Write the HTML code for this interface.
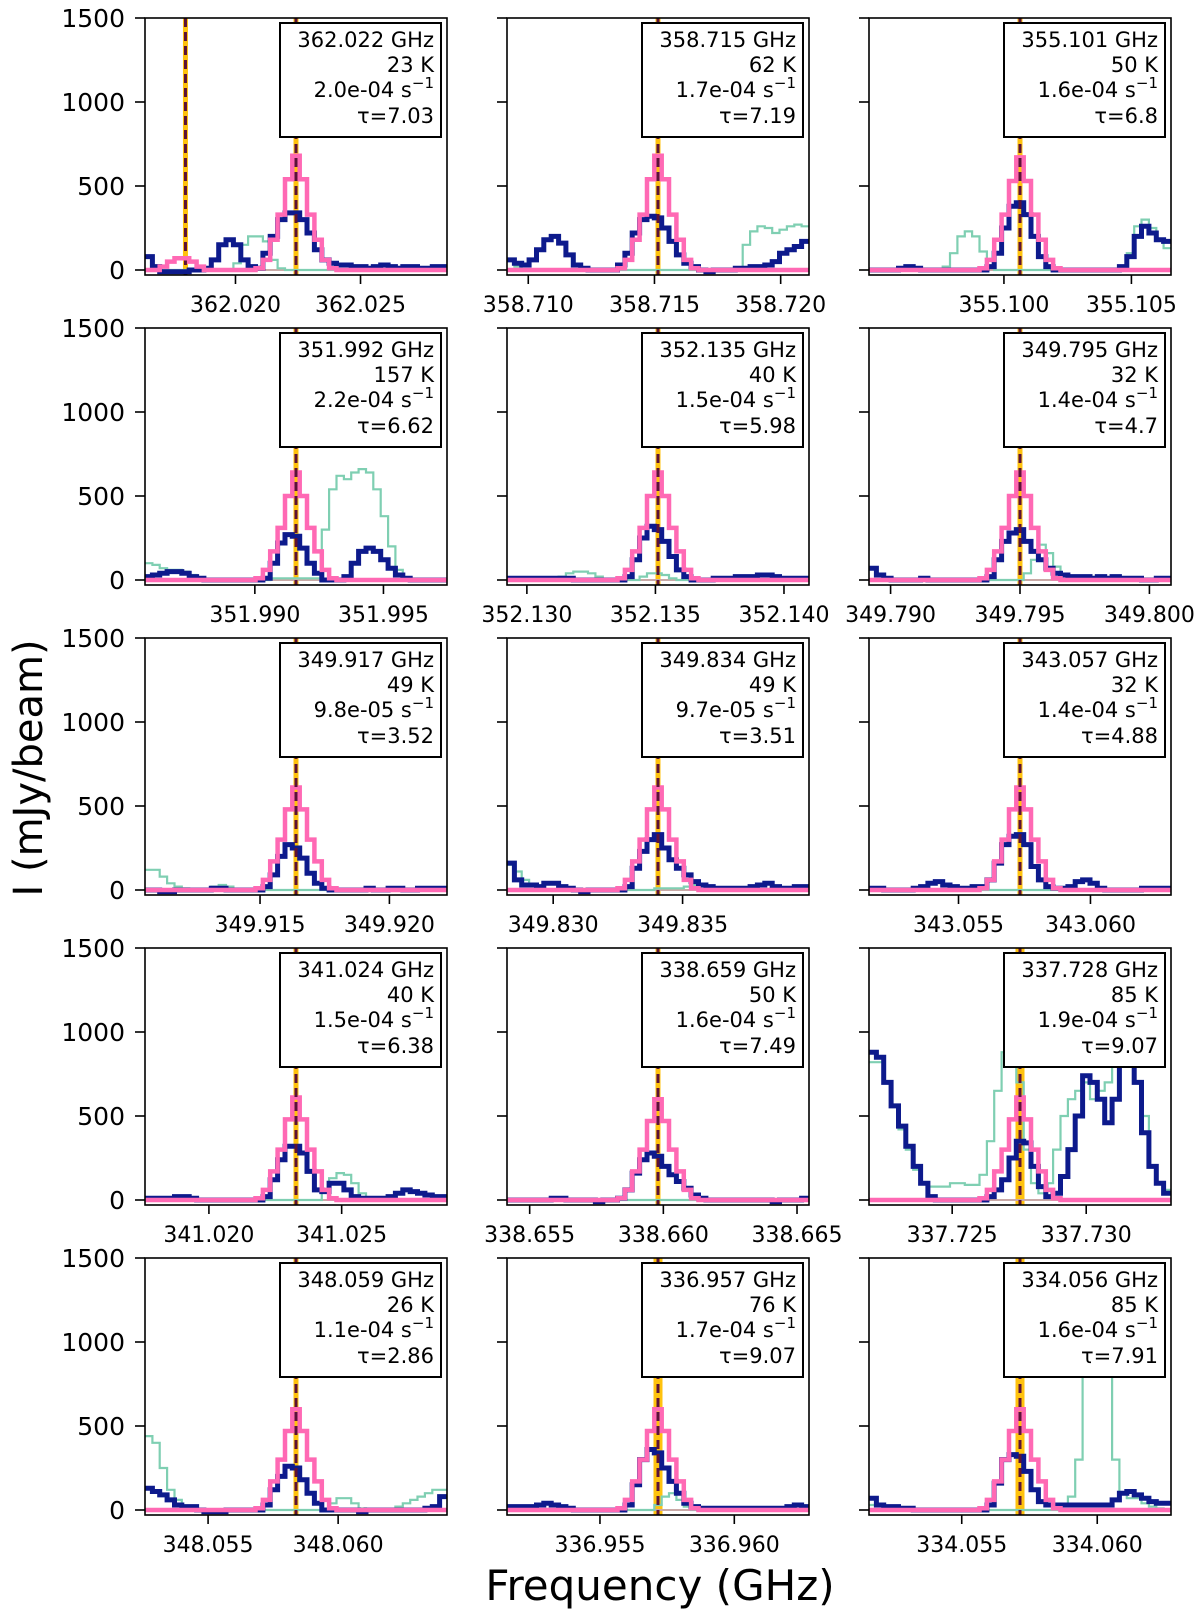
<!DOCTYPE html>
<html><head><meta charset="utf-8"><style>
body{margin:0;background:#fff}
svg text{font-family:"DejaVu Sans","Liberation Sans",sans-serif}
</style></head><body>
<svg id="fig" xmlns="http://www.w3.org/2000/svg" width="1200" height="1613" viewBox="0 0 1200 1613">
<text x="0" y="0" transform="translate(42,768) rotate(-90)" font-size="40" text-anchor="middle">I (mJy/beam)</text>
<text x="660" y="1600" font-size="42" text-anchor="middle">Frequency (GHz)</text>
</svg>
<script>
const labels=["362.022 GHz","358.715 GHz","355.101 GHz","351.992 GHz","352.135 GHz","349.795 GHz","349.917 GHz","349.834 GHz","343.057 GHz","341.024 GHz","338.659 GHz","337.728 GHz","348.059 GHz","336.957 GHz","334.056 GHz"];
const temps=["23 K","62 K","50 K","157 K","40 K","32 K","49 K","49 K","32 K","40 K","50 K","85 K","26 K","76 K","85 K"];
const rates=["2.0e-04","1.7e-04","1.6e-04","2.2e-04","1.5e-04","1.4e-04","9.8e-05","9.7e-05","1.4e-04","1.5e-04","1.6e-04","1.9e-04","1.1e-04","1.7e-04","1.6e-04"];
const taus=["7.03","7.19","6.8","6.62","5.98","4.7","3.52","3.51","4.88","6.38","7.49","9.07","2.86","9.07","7.91"];
const centers=[362.02242,358.71514,355.10063,351.9916,352.1351,349.7950,349.91639,349.83405,343.05733,341.02328,338.6598,337.72753,348.05838,336.95716,334.05715];
const tickVals=[[362.020,362.025],[358.710,358.715,358.720],[355.100,355.105],[351.990,351.995],[352.130,352.135,352.140],[349.790,349.795,349.800],[349.915,349.920],[349.830,349.835],[343.055,343.060],[341.020,341.025],[338.655,338.660,338.665],[337.725,337.730],[348.055,348.060],[336.955,336.960],[334.055,334.060]];
const extraLines=[[362.0180],[],[],[],[],[],[],[],[],[],[],[],[],[],[]];
const yTicks=[0,500,1000,1500];
const navy=[
[80,20,-10,-10,-10,-10,0,0,10,60,150,180,150,60,20,10,100,200,300,340,340,300,220,120,60,40,30,30,20,20,10,20,30,20,10,20,20,10,10,20,20],
[60,40,30,60,120,180,200,160,90,30,10,0,0,0,0,30,100,220,300,320,310,250,170,90,40,20,0,-10,0,0,0,10,10,20,20,30,50,100,120,140,170],
[0,0,0,0,10,20,10,0,0,0,0,0,0,0,0,0,20,100,250,380,400,330,200,80,20,0,0,0,0,0,0,0,0,0,20,80,200,260,220,180,170],
[20,30,40,50,50,40,20,10,0,0,0,0,0,0,0,0,10,100,220,270,260,190,100,40,0,0,0,20,100,170,190,170,120,70,30,10,0,0,0,0,0],
[10,10,10,10,10,10,10,10,10,0,0,0,0,0,0,0,20,120,250,320,300,230,140,60,20,0,0,0,10,10,10,20,20,20,30,30,20,10,10,10,10],
[70,30,10,0,0,0,0,10,0,0,0,0,0,0,0,0,20,120,230,280,300,230,170,120,70,40,30,20,20,20,10,20,10,20,10,10,10,0,0,10,10],
[0,0,-10,-10,0,0,0,0,0,10,10,0,0,0,0,0,20,90,200,270,250,190,100,40,10,0,0,0,0,0,10,0,0,10,10,0,0,10,10,10,10],
[160,60,30,30,20,40,40,20,10,0,-10,0,0,0,0,0,20,130,230,300,330,250,180,130,90,50,30,20,10,10,10,10,10,20,30,40,20,10,10,20,20],
[10,10,0,0,0,0,10,20,40,50,30,20,10,10,20,20,60,160,270,320,330,270,140,60,20,10,10,20,50,60,40,10,0,0,0,0,0,10,10,10,10],
[10,10,10,10,20,20,10,0,0,0,0,0,0,0,0,0,20,120,240,320,320,280,170,60,50,100,100,60,20,10,10,10,10,20,40,60,50,40,30,20,20],
[0,0,0,0,0,0,10,10,0,0,0,0,-10,0,0,10,60,160,240,280,260,200,150,110,70,30,10,0,0,0,0,0,0,0,0,0,-10,0,0,0,10],
[880,850,700,560,440,320,200,100,20,0,0,0,0,0,0,0,20,60,120,250,350,340,200,80,20,40,140,300,500,740,700,600,460,600,900,900,700,400,200,100,40],
[130,110,90,60,30,20,20,0,-10,-10,-10,0,0,0,0,0,30,120,200,260,250,180,100,40,0,0,0,0,0,-10,0,0,0,0,0,0,0,0,10,20,80],
[20,20,20,20,30,40,30,20,10,0,0,0,0,0,0,0,30,150,300,360,340,250,170,100,40,20,10,10,10,10,10,10,10,10,10,10,10,10,20,30,20],
[70,30,20,20,10,10,0,0,0,0,0,0,0,0,0,0,30,160,300,330,320,230,120,50,30,30,30,30,30,30,30,30,30,60,100,110,90,70,50,40,40]];
const pink=[
[0,0,20,50,70,70,50,20,0,0,0,0,0,0,0,10,60,180,330,540,680,540,330,180,60,10,0,0,0,0,0,0,0,0,0,0,0,0,0,0,0],
[0,0,0,0,0,0,0,0,0,0,0,0,0,0,0,10,60,180,330,540,680,540,330,180,60,10,0,0,0,0,0,0,0,0,0,0,0,0,0,0,0],
[0,0,0,0,0,0,0,0,0,0,0,0,0,0,0,10,60,180,330,530,670,530,330,180,60,10,0,0,0,0,0,0,0,0,0,0,0,0,0,0,0],
[0,0,0,0,0,0,0,0,0,0,0,0,0,0,0,10,60,170,310,500,640,500,310,170,60,10,0,0,0,0,0,0,0,0,0,0,0,0,0,0,0],
[0,0,0,0,0,0,0,0,0,0,0,0,0,0,0,10,60,170,310,500,640,500,310,170,60,10,0,0,0,0,0,0,0,0,0,0,0,0,0,0,0],
[0,0,0,0,0,0,0,0,0,0,0,0,0,0,0,10,60,170,310,500,640,500,310,170,60,10,0,0,0,0,0,0,0,0,0,0,0,0,0,0,0],
[0,0,0,0,0,0,0,0,0,0,0,0,0,0,0,10,60,170,300,480,610,480,300,170,60,10,0,0,0,0,0,0,0,0,0,0,0,0,0,0,0],
[0,0,0,0,0,0,0,0,0,0,0,0,0,0,0,10,60,170,300,480,610,480,300,170,60,10,0,0,0,0,0,0,0,0,0,0,0,0,0,0,0],
[0,0,0,0,0,0,0,0,0,0,0,0,0,0,0,10,60,170,300,480,610,480,300,170,60,10,0,0,0,0,0,0,0,0,0,0,0,0,0,0,0],
[0,0,0,0,0,0,0,0,0,0,0,0,0,0,0,10,60,170,300,480,610,480,300,170,60,10,0,0,0,0,0,0,0,0,0,0,0,0,0,0,0],
[0,0,0,0,0,0,0,0,0,0,0,0,0,0,0,10,60,170,300,470,600,470,300,170,60,10,0,0,0,0,0,0,0,0,0,0,0,0,0,0,0],
[0,0,0,0,0,0,0,0,0,0,0,0,0,0,0,10,60,170,300,480,610,480,300,170,60,10,0,0,0,0,0,0,0,0,0,0,0,0,0,0,0],
[0,0,0,0,0,0,0,0,0,0,0,0,0,0,0,10,60,170,300,470,600,470,300,170,60,10,0,0,0,0,0,0,0,0,0,0,0,0,0,0,0],
[0,0,0,0,0,0,0,0,0,0,0,0,0,0,0,10,60,170,300,470,600,470,300,170,60,10,0,0,0,0,0,0,0,0,0,0,0,0,0,0,0],
[0,0,0,0,0,0,0,0,0,0,0,0,0,0,0,10,60,170,300,470,600,470,300,170,60,10,0,0,0,0,0,0,0,0,0,0,0,0,0,0,0]];
const teal=[
[0,0,0,0,0,0,0,0,0,0,0,0,40,150,200,200,170,60,10,0,0,0,0,0,0,0,0,0,0,0,0,0,0,0,0,0,0,0,0,0,0],
[60,20,0,0,0,0,0,0,0,0,0,0,0,0,0,0,0,0,0,0,0,0,0,0,0,0,0,0,0,0,0,10,150,230,260,250,220,240,260,270,260],
[0,0,0,0,0,0,0,0,0,0,20,100,200,230,200,110,20,0,0,0,0,0,0,0,0,0,0,0,0,0,0,0,0,0,0,100,260,300,250,180,130],
[100,90,70,60,60,50,30,10,0,0,0,0,0,0,0,0,0,10,10,10,10,10,10,10,300,540,620,600,640,660,640,540,380,200,60,0,0,0,0,0,0],
[0,0,0,0,0,0,0,20,40,50,50,40,20,0,0,0,0,0,20,40,40,30,10,0,0,0,0,0,0,0,0,0,0,0,0,0,0,0,0,0,0],
[0,0,0,0,0,0,0,0,0,0,0,0,0,0,0,0,0,0,0,0,0,40,120,210,160,80,30,0,0,0,0,0,0,0,0,0,0,0,0,0,0],
[120,120,80,40,20,10,0,0,0,20,30,20,0,0,0,0,0,0,0,0,0,0,0,0,0,0,0,0,0,0,0,0,0,0,0,0,0,0,0,0,0],
[150,110,60,30,10,0,0,0,0,0,0,0,0,0,0,0,0,0,0,0,10,10,10,10,20,30,30,20,0,0,0,0,0,0,0,0,0,0,0,0,0],
[0,0,0,0,0,0,0,0,0,0,0,0,0,0,0,0,0,0,0,0,0,0,0,0,0,0,0,0,0,0,0,0,0,0,0,0,0,0,0,0,0],
[0,0,0,0,0,0,0,0,0,0,0,0,0,0,0,0,0,0,0,0,0,0,0,0,60,130,160,150,100,40,0,0,0,0,0,0,0,0,0,0,0],
[0,0,0,0,0,0,0,0,0,0,0,0,0,0,0,0,0,0,0,0,0,0,0,0,0,0,0,0,0,0,0,0,0,0,0,0,0,0,0,0,0],
[820,820,700,560,420,300,180,100,80,80,80,100,100,90,90,150,350,650,880,900,700,300,100,40,100,300,500,600,650,700,600,650,700,800,800,800,700,500,200,100,60],
[440,400,250,120,60,20,0,0,0,0,0,0,0,0,0,0,0,0,0,0,0,0,0,0,0,40,70,70,40,10,0,0,0,0,20,40,60,80,100,120,120],
[0,0,0,0,0,0,0,0,0,0,0,0,0,0,0,0,0,0,0,0,30,80,100,60,20,0,0,0,0,0,0,0,0,0,0,0,0,0,0,0,0],
[30,30,20,10,0,0,0,0,0,0,0,0,0,0,0,0,0,0,0,0,0,0,0,0,0,0,30,80,300,800,1200,1200,1200,300,100,70,70,40,20,10,0]];
const wideYellow=[11,13,14];
</script>
<script>
const NS="http://www.w3.org/2000/svg";
const svg=document.getElementById('fig');
const colL=[145,507,869], rowT=[18,328,638,948,1258], W=302, H=257;
const C=299792.458;
function mk(tag,attrs,parent){const e=document.createElementNS(NS,tag);for(const k in attrs)e.setAttribute(k,attrs[k]);(parent||svg).appendChild(e);return e;}
const defs=mk('defs',{});
for(let p=0;p<15;p++){
  const r=Math.floor(p/3), c=p%3, L=colL[c], T=rowT[r];
  const f0=centers[p], half=f0*5/C, fmin=f0-half, fmax=f0+half;
  const xs=f=>L+(f-fmin)/(fmax-fmin)*W;
  const ys=v=>T+(1500-v)*252/1500;
  const g=mk('g',{});
  
  
  const cp=mk('clipPath',{id:'cp'+p},defs);
  mk('rect',{x:L,y:T,width:W,height:H},cp);
  const pg=mk('g',{'clip-path':'url(#cp'+p+')'},g);
  const thick=wideYellow.includes(p)?9:5;
  const yl=mk('line',{x1:xs(f0),x2:xs(f0),y1:T,y2:T+H,stroke:'#ffc20e','stroke-width':thick},pg);
  
  
  extraLines[p].forEach(f=>{
    const e1=mk('line',{x1:xs(f),x2:xs(f),y1:T,y2:T+H,stroke:'#ffc20e','stroke-width':5},pg);
    
    
    const e2=mk('line',{x1:xs(f),x2:xs(f),y1:T,y2:T+H,stroke:'#5b1238','stroke-width':3,'stroke-dasharray':'9,5'},pg);
    
    
  });
  const bl=mk('line',{x1:L,x2:L+W,y1:ys(0),y2:ys(0),stroke:'#c9a9a6','stroke-width':2},pg);
  
  
  const n=41, dw=(fmax-fmin)/n;
  function stepPath(arr){
    let d='';
    for(let i=0;i<n;i++){
      const v=(arr[i]===undefined)?0:arr[i];
      const xa=xs(fmin+i*dw), xb=xs(fmin+(i+1)*dw), y=ys(v);
      d+=(i===0?'M':'L')+xa.toFixed(1)+','+y.toFixed(1)+'L'+xb.toFixed(1)+','+y.toFixed(1);
    }
    return d;
  }
  const t=mk('path',{d:stepPath(teal[p]),fill:'none',stroke:'#7fcfb2','stroke-width':2.2},pg);
  
  
  const nv=mk('path',{d:stepPath(navy[p]),fill:'none',stroke:'#0d1a8c','stroke-width':5},pg);
  
  
  const pk=mk('path',{d:stepPath(pink[p]),fill:'none',stroke:'#ff69b4','stroke-width':4.5},pg);
  
  
  const dl=mk('line',{x1:xs(f0),x2:xs(f0),y1:T,y2:T+H,stroke:'#5b1238','stroke-width':3,'stroke-dasharray':'9,5'},pg);
  
  
  const fr=mk('rect',{x:L,y:T,width:W,height:H,fill:'none',stroke:'#000','stroke-width':1.6},g);
  
  
  yTicks.forEach(v=>{
    const tk=mk('line',{x1:L-10,x2:L,y1:ys(v),y2:ys(v),stroke:'#000','stroke-width':1.6},g);
    
    
    if(c===0){
      const tl=mk('text',{x:L-20,y:ys(v)+9,'font-size':25,'text-anchor':'end'},g);
      tl.textContent=v;
      
      
    }
  });
  tickVals[p].forEach(f=>{
    const x=xs(f); if(x<L-1||x>L+W+1) return;
    const tk=mk('line',{x1:x,x2:x,y1:T+H,y2:T+H+9,stroke:'#000','stroke-width':1.6},g);
    
    
    const tl=mk('text',{x:x,y:T+H+37,'font-size':22,'text-anchor':'middle'},g);
    tl.textContent=f.toFixed(3);
    
    
  });
  const bx=L+W-167, by=T+5;
  const box=mk('rect',{x:bx,y:by,width:161,height:114,fill:'#fff',stroke:'#000','stroke-width':2},g);
  
  
  const tx=L+W-13;
  const t1=mk('text',{x:tx,y:by+24,'font-size':21,'text-anchor':'end'},g);t1.textContent=labels[p];
  
  
  const t2=mk('text',{x:tx,y:by+49,'font-size':21,'text-anchor':'end'},g);t2.textContent=temps[p];
  
  
  const t3=mk('text',{x:tx,y:by+74,'font-size':21,'text-anchor':'end'},g);
  
  
  const s1=mk('tspan',{},t3);s1.textContent=rates[p]+' s';
  const s2=mk('tspan',{dy:-9,'font-size':15},t3);s2.textContent='−1';
  const t4=mk('text',{x:tx,y:by+100,'font-size':21,'text-anchor':'end'},g);t4.textContent='τ='+taus[p];
  
  
}
</script>
</body></html>
